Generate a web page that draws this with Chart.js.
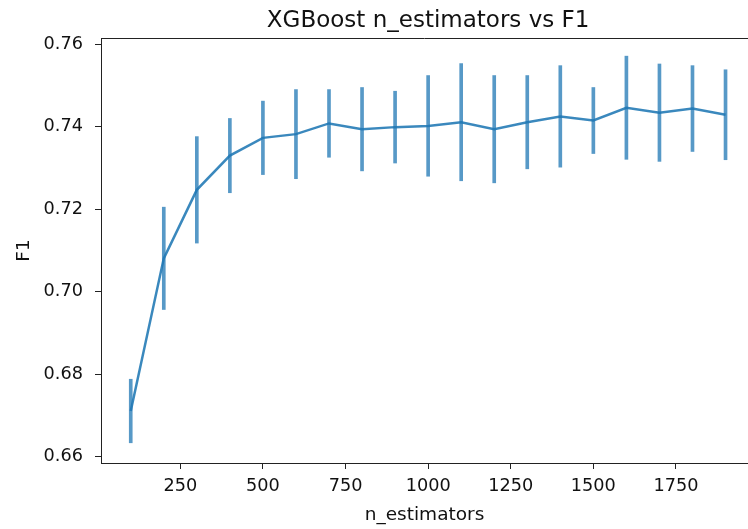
<!DOCTYPE html>
<html>
<head>
<meta charset="utf-8">
<script src="https://cdn.jsdelivr.net/npm/chart.js@4"></script>
<style>
  body { margin: 0; background: #fff; overflow: hidden; }
</style>
</head>
<body>
<canvas id="f1Chart" width="748" height="529"></canvas>
<script>
// values
const nEstimators = [100, 200, 300, 400, 500, 600, 700, 800, 900, 1000,
  1100, 1200, 1300, 1400, 1500, 1600, 1700, 1800, 1900];
const f1Mean = [0.6711, 0.7081, 0.7247, 0.7330, 0.7373, 0.7382, 0.7408, 0.7394, 0.7399, 0.7402,
  0.7411, 0.7394, 0.7411, 0.7425, 0.7415, 0.7446, 0.7434, 0.7444, 0.7429];
const f1Err = [0.0077, 0.0124, 0.0129, 0.0090, 0.0089, 0.0108, 0.0082, 0.0101, 0.0087, 0.0122,
  0.0142, 0.0130, 0.0113, 0.0123, 0.0080, 0.0125, 0.0118, 0.0104, 0.0109];
const xTicks = [250, 500, 750, 1000, 1250, 1500, 1750];
const yTicks = [0.66, 0.68, 0.70, 0.72, 0.74, 0.76];

const blue = 'rgba(31,119,180,0.88)';
const blueBars = 'rgba(31,119,180,0.75)';
const axisColor = '#222';
const tickFont = { family: 'DejaVu Sans', size: 17.7 };
const labelFont = { family: 'DejaVu Sans', size: 18.5 };

// top spine plus the title, centred over the full (cropped) axes like matplotlib
const frame = {
  id: 'frame',
  afterDraw(chart) {
    const { ctx, chartArea } = chart;
    const axesRight = chart.scales.x.getPixelForValue(1990);
    ctx.save();
    ctx.strokeStyle = axisColor;
    ctx.lineWidth = 1;
    ctx.beginPath();
    ctx.moveTo(chartArea.left, chartArea.top + 0.5);
    ctx.lineTo(chartArea.right, chartArea.top + 0.5);
    ctx.stroke();
    ctx.fillStyle = '#111';
    ctx.font = '23px "DejaVu Sans"';
    ctx.textAlign = 'center';
    ctx.textBaseline = 'alphabetic';
    ctx.fillText('XGBoost n_estimators vs F1', (chartArea.left + axesRight) / 2, 27);
    ctx.restore();
  }
};

new Chart(document.getElementById('f1Chart'), {
  data: {
    datasets: [
      {
        type: 'bar',
        label: 'err',
        data: nEstimators.map((n, i) => ({ x: n, y: [f1Mean[i] - f1Err[i], f1Mean[i] + f1Err[i]] })),
        backgroundColor: blueBars,
        borderWidth: 0,
        barThickness: 3,
        grouped: false
      },
      {
        type: 'line',
        label: 'F1',
        data: nEstimators.map((n, i) => ({ x: n, y: f1Mean[i] })),
        borderColor: blue,
        borderWidth: 2.5,
        pointRadius: 0,
        tension: 0,
        fill: false
      }
    ]
  },
  options: {
    responsive: false,
    animation: false,
    layout: { padding: { top: 38, left: 0, right: 0, bottom: 0 } },
    plugins: {
      legend: { display: false },
      tooltip: { enabled: false }
    },
    scales: {
      x: {
        type: 'linear',
        min: 10,
        max: 1968,
        offset: false,
        afterFit: s => { s.height = 66; },
        afterBuildTicks: s => { s.ticks = xTicks.map(v => ({ value: v })); },
        grid: { offset: false, drawOnChartArea: false, drawTicks: true, tickLength: 6, color: axisColor },
        border: { display: true, color: axisColor, width: 1 },
        ticks: {
          color: '#111', font: tickFont, padding: 7, autoSkip: false, maxRotation: 0,
          callback: v => String(v)
        },
        title: {
          display: true, text: 'n_estimators', color: '#111', font: labelFont,
          padding: { top: 0, bottom: 3 }
        }
      },
      y: {
        type: 'linear',
        min: 0.6585,
        max: 0.7615,
        afterFit: s => { s.width = 101; },
        afterBuildTicks: s => { s.ticks = yTicks.map(v => ({ value: v })); },
        grid: { drawOnChartArea: false, drawTicks: true, tickLength: 6, color: axisColor },
        border: { display: true, color: axisColor, width: 1 },
        ticks: {
          color: '#111', font: tickFont, padding: 12, autoSkip: false,
          callback: v => v.toFixed(2)
        },
        title: {
          display: true, text: 'F1', color: '#111', font: labelFont,
          padding: { top: 13, bottom: 0 }
        }
      }
    }
  },
  plugins: [frame]
});
</script>
</body>
</html>
